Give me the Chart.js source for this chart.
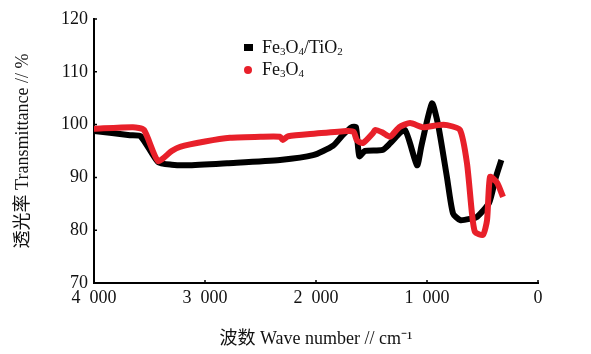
<!DOCTYPE html>
<html>
<head>
<meta charset="utf-8">
<script src="https://cdn.jsdelivr.net/npm/chart.js@4"></script>
<style>
  html, body { margin: 0; padding: 0; background: #fff; }
  #wrap { width: 591px; height: 354px; position: relative; }
</style>
</head>
<body>
<div id="wrap"><canvas id="irChart"></canvas></div>
<script>
// IR spectra (wavenumber cm-1 / transmittance %)
const compositeWave = [4000, 3676, 3580, 3423, 3300, 3162, 2800, 2324, 2027, 1847, 1760, 1680, 1640, 1610, 1560, 1400, 1330, 1200, 1090, 1050, 955, 900, 820, 766, 700, 600, 550, 440, 380, 330];
const compositeValues = [98.8, 98.0, 97.8, 92.9, 92.4, 92.3, 92.7, 93.3, 94.2, 96.0, 98.0, 99.5, 99.5, 94.0, 95.0, 95.2, 96.5, 99.0, 92.3, 96.0, 104.0, 100.0, 90.0, 83.2, 81.9, 82.2, 82.5, 85.2, 90.0, 93.3];

const magnetiteWave = [4000, 3649, 3550, 3423, 3300, 3225, 3000, 2775, 2500, 2324, 2300, 2250, 2000, 1721, 1660, 1631, 1577, 1486, 1468, 1400, 1333, 1250, 1153, 1036, 900, 820, 703, 640, 595, 568, 496, 459, 432, 369, 315];
const magnetiteValues = [99.2, 99.5, 99.0, 93.1, 95.0, 95.8, 96.8, 97.5, 97.7, 97.7, 97.1, 97.8, 98.3, 98.8, 98.6, 97.0, 96.5, 98.4, 99.0, 98.5, 97.7, 99.5, 100.3, 99.5, 99.9, 99.9, 99.0, 92.7, 83.2, 79.7, 79.1, 81.9, 90.1, 89.0, 86.3];

const xTicks = [4000, 3000, 2000, 1000, 0];
const yTicks = [70, 80, 90, 100, 110, 120];

const SERIF = '"Liberation Serif", "Noto Sans CJK SC", serif';

function toPoints(xs, ys) {
    return xs.map((x, i) => ({ x, y: ys[i] }));
}

function fmtWave(v) {
    if (v === 0) return '0';
    const s = String(v);
    return s.slice(0, s.length - 3) + '\u2002' + s.slice(-3);
}

// draw text with subscript runs: parts = [[text, isSub], ...]
function drawRich(ctx, parts, x, y, size) {
    let cx = x;
    parts.forEach(([txt, sub]) => {
        const fs = sub ? Math.round(size * 0.62) : size;
        ctx.font = fs + 'px ' + SERIF;
        ctx.fillText(txt, cx, sub ? y + size * 0.22 : y);
        cx += ctx.measureText(txt).width;
    });
}

const legendPlugin = {
    id: 'irLegend',
    afterDraw(chart) {
        const ctx = chart.ctx;
        ctx.save();
        ctx.fillStyle = '#000';
        ctx.fillRect(244, 44, 9, 7);
        ctx.fillStyle = '#e8202a';
        ctx.beginPath();
        ctx.arc(248, 70, 4, 0, Math.PI * 2);
        ctx.fill();
        ctx.fillStyle = '#111';
        ctx.textBaseline = 'middle';
        ctx.textAlign = 'left';
        drawRich(ctx, [['Fe', 0], ['3', 1], ['O', 0], ['4', 1], ['/TiO', 0], ['2', 1]], 262, 48, 18);
        drawRich(ctx, [['Fe', 0], ['3', 1], ['O', 0], ['4', 1]], 262, 70, 18);
        ctx.restore();
    }
};

// short tick marks pointing into the plot
const innerTicks = {
    id: 'innerTicks',
    afterDraw(chart) {
        const { ctx, scales: { x, y } } = chart;
        ctx.save();
        ctx.strokeStyle = '#000';
        ctx.lineWidth = 1.5;
        ctx.beginPath();
        yTicks.forEach(v => {
            const py = y.getPixelForValue(v);
            ctx.moveTo(x.left, py);
            ctx.lineTo(x.left + 3, py);
        });
        xTicks.forEach(v => {
            const px = x.getPixelForValue(v);
            ctx.moveTo(px, y.bottom);
            ctx.lineTo(px, y.bottom - 3);
        });
        ctx.stroke();
        ctx.restore();
    }
};

new Chart(document.getElementById('irChart'), {
    type: 'line',
    data: {
        datasets: [
            {
                label: 'Fe3O4/TiO2',
                data: toPoints(compositeWave, compositeValues),
                borderColor: '#000',
                borderWidth: 6,
                pointRadius: 0,
                tension: 0.2,
                order: 1
            },
            {
                label: 'Fe3O4',
                data: toPoints(magnetiteWave, magnetiteValues),
                borderColor: '#e8202a',
                borderWidth: 6,
                pointRadius: 0,
                tension: 0.2,
                order: 0
            }
        ]
    },
    options: {
        responsive: true,
        maintainAspectRatio: false,
        animation: false,
        layout: { padding: { top: 19, right: 53, left: 0, bottom: 0 } },
        plugins: { legend: { display: false }, tooltip: { enabled: false } },
        scales: {
            x: {
                type: 'linear',
                reverse: true,
                min: 0,
                max: 4000,
                afterFit(scale) { scale.height = 71; },
                afterBuildTicks(scale) { scale.ticks = xTicks.map(v => ({ value: v })); },
                border: { display: true, color: '#000', width: 2 },
                grid: { display: false, drawTicks: false, tickLength: 0 },
                ticks: {
                    color: '#111',
                    padding: 4,
                    maxRotation: 0,
                    font: { family: SERIF, size: 18 },
                    callback: v => fmtWave(v)
                },
                title: {
                    display: true,
                    text: '波数 Wave number // cm⁻¹',
                    color: '#111',
                    padding: { top: 0 },
                    font: { family: SERIF, size: 18 }
                }
            },
            y: {
                min: 70,
                max: 120,
                afterFit(scale) { scale.width = 94; },
                afterBuildTicks(scale) { scale.ticks = yTicks.map(v => ({ value: v })); },
                border: { display: true, color: '#000', width: 2 },
                grid: { display: false, drawTicks: false, tickLength: 0 },
                ticks: {
                    color: '#111',
                    padding: 6,
                    font: { family: SERIF, size: 18 }
                },
                title: {
                    display: true,
                    text: '透光率 Transmittance // %',
                    color: '#111',
                    padding: { top: 12 },
                    font: { family: SERIF, size: 18 }
                }
            }
        }
    },
    plugins: [legendPlugin, innerTicks]
});
</script>
</body>
</html>
